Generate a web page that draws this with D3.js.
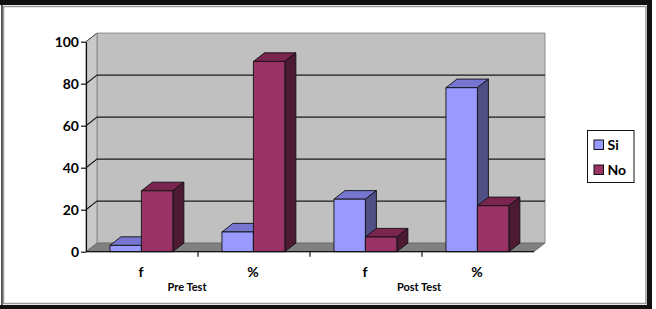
<!DOCTYPE html>
<html><head><meta charset="utf-8">
<script src="https://cdn.jsdelivr.net/npm/d3@7"></script>
<style>html,body{margin:0;padding:0;background:#fff;} svg{display:block;}</style>
</head><body>
<script>
const categories = ["f", "%", "f", "%"];
const groups = ["Pre Test", "Post Test"];
const series = ["Si", "No"];
const siValues = [3, 9.4, 25, 78.1];
const noValues = [29, 90.6, 7, 21.9];
const yTicks = [0, 20, 40, 60, 80, 100];

const W = 656, H = 309;
const svg = d3.select("body").append("svg").attr("width", W).attr("height", H);
const font = "Lato, 'Open Sans', sans-serif";

// frame
svg.append("rect").attr("x",0).attr("y",0).attr("width",W).attr("height",H).attr("fill","#fff");
svg.append("rect").attr("x",0).attr("y",0).attr("width",652).attr("height",5).attr("fill","#111");
svg.append("rect").attr("x",647).attr("y",0).attr("width",5).attr("height",309).attr("fill","#111");
svg.append("rect").attr("x",0).attr("y",305).attr("width",652).attr("height",4).attr("fill","#111");
svg.append("rect").attr("x",1).attr("y",5).attr("width",2).attr("height",300).attr("fill","#555");
svg.append("rect").attr("x",3.5).attr("y",6.5).attr("width",642.5).attr("height",297)
  .attr("fill","none").attr("stroke","#9a9a9a").attr("stroke-width",1.5);

const x0 = 86, x1 = 534, yBottom = 251.7, yTop = 41.7;
const DX = 11, DY = -8.6;

const x = d3.scaleBand().domain(d3.range(categories.length)).range([x0, x1]).paddingInner(0).paddingOuter(0);
const xs = d3.scaleBand().domain(series).range([0, x.bandwidth()]).paddingInner(0).paddingOuter(0.78);
const y = d3.scaleLinear().domain([0, 100]).range([yBottom, yTop]);

const g = svg.append("g");
// back wall
g.append("polygon").attr("points", [[x0+DX, y(100)+DY],[x1+DX, y(100)+DY],[x1+DX, y(0)+DY],[x0+DX, y(0)+DY]].join(" "))
  .attr("fill","#c0c0c0").attr("stroke","#8a8a8a").attr("stroke-width",1);
// left wall
g.append("polygon").attr("points", [[x0, y(100)],[x0+DX, y(100)+DY],[x0+DX, y(0)+DY],[x0, y(0)]].join(" "))
  .attr("fill","#c9c9c9").attr("stroke","#8a8a8a").attr("stroke-width",1);
// floor
g.append("polygon").attr("points", [[x0, y(0)],[x0+DX, y(0)+DY],[x1+DX, y(0)+DY],[x1, y(0)]].join(" "))
  .attr("fill","#808080").attr("stroke","#6a6a6a").attr("stroke-width",0.8);
// gridlines
yTicks.filter(v => v > 0 && v < 100).forEach(v => {
  g.append("path").attr("d", `M${x0},${y(v)}L${x0+DX},${y(v)+DY}L${x1+DX},${y(v)+DY}`)
    .attr("fill","none").attr("stroke","#1a1a1a").attr("stroke-width",1.1);
});

// bars
const colors = {
  Si: {front:"#9999ff", top:"#7676d0", side:"#4f4f86"},
  No: {front:"#993366", top:"#7a2450", side:"#4d1a33"}
};
const data = [];
categories.forEach((c, i) => {
  data.push({i, s:"Si", v: siValues[i]});
  data.push({i, s:"No", v: noValues[i]});
});
const bars = g.append("g");
data.forEach(d => {
  const bx = x(d.i) + xs(d.s) - 0.6, bw = xs.bandwidth();
  const yt = y(d.v), yb = y(0);
  const col = colors[d.s];
  const grp = bars.append("g").attr("stroke","#111").attr("stroke-width",0.9).attr("stroke-linejoin","round");
  grp.append("polygon").attr("points", [[bx, yt],[bx+DX, yt+DY],[bx+bw+DX, yt+DY],[bx+bw, yt]].join(" ")).attr("fill", col.top);
  grp.append("polygon").attr("points", [[bx+bw, yt],[bx+bw+DX, yt+DY],[bx+bw+DX, yb+DY],[bx+bw, yb]].join(" ")).attr("fill", col.side);
  grp.append("rect").attr("x", bx).attr("y", yt).attr("width", bw).attr("height", yb-yt).attr("fill", col.front);
});

// y axis
const yAxis = svg.append("g").attr("transform", `translate(${x0},0)`)
  .call(d3.axisLeft(y).tickValues(yTicks).tickSize(5).tickSizeOuter(0).tickPadding(2));
yAxis.select(".domain").attr("stroke","#111").attr("stroke-width",1.2);
yAxis.selectAll(".tick line").attr("stroke","#111").attr("stroke-width",1.2);
yAxis.selectAll("text").attr("font-family", font).attr("font-weight","bold").attr("font-size",14).attr("fill","#000");
// top edge diagonal of axis
svg.append("path").attr("d", `M${x0},${y(100)}L${x0+DX},${y(100)+DY}`).attr("stroke","#555").attr("stroke-width",1);

// x axis
svg.append("line").attr("x1", x0).attr("x2", x1).attr("y1", y(0)).attr("y2", y(0)).attr("stroke","#111").attr("stroke-width",1.2);
d3.range(1, categories.length).forEach(i => {
  svg.append("line").attr("x1", x(i)).attr("x2", x(i)).attr("y1", y(0)).attr("y2", y(0)+5).attr("stroke","#111").attr("stroke-width",1.2);
});
svg.append("g").selectAll("text").data(categories).join("text")
  .attr("x", (d, i) => x(i) + x.bandwidth()/2 - 1)
  .attr("y", 277)
  .attr("text-anchor","middle")
  .attr("font-family", font).attr("font-weight","bold").attr("font-size",14)
  .text(d => d);
const groupOffsets = [-11, -3];
svg.append("g").selectAll("text").data(groups).join("text")
  .attr("x", (d, gi) => x(gi*2 + 1) + groupOffsets[gi])
  .attr("y", 290.5)
  .attr("text-anchor","middle")
  .attr("font-family", font).attr("font-weight","bold").attr("font-size",11)
  .text(d => d);

// legend
const lg = svg.append("g");
lg.append("rect").attr("x",587.5).attr("y",130.5).attr("width",46.5).attr("height",52)
  .attr("fill","#fff").attr("stroke","#111").attr("stroke-width",1);
series.forEach((s, k) => {
  const cy = 145 + k*25;
  lg.append("rect").attr("x",594).attr("y",cy-5).attr("width",9.5).attr("height",9.5)
    .attr("fill", colors[s].front).attr("stroke","#111").attr("stroke-width",1);
  lg.append("text").attr("x",607.5).attr("y",cy+5)
    .attr("font-family", font).attr("font-weight","bold").attr("font-size",14).text(s);
});
</script>
</body></html>
